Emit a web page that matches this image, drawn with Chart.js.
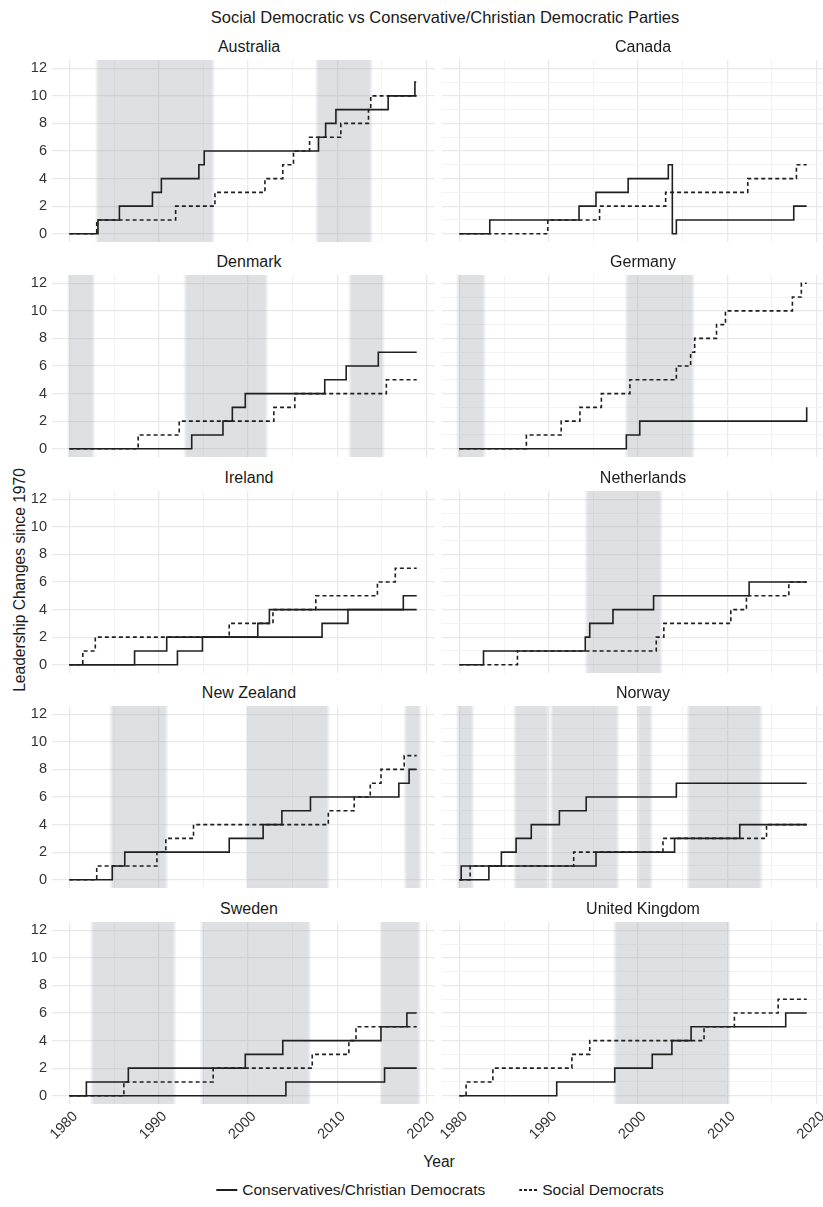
<!DOCTYPE html>
<html>
<head>
<meta charset="utf-8">
<script src="https://cdn.jsdelivr.net/npm/chart.js@4.4.0/dist/chart.umd.min.js"></script>
<style>
    body { margin: 0; background: #fff; overflow: hidden; font-family: "Liberation Sans", Arial, sans-serif; }
    #wrap { position: relative; width: 823px; height: 1207px; overflow: hidden; }
    #wrap canvas { position: absolute; }
    .txt { position: absolute; white-space: nowrap; color: #1a1a1a; }
    .strip { font-size: 16px; line-height: 18px; transform: translateX(-50%); }
    #title { left: 445px; top: 7px; font-size: 16.5px; line-height: 20px; transform: translateX(-50%); }
    #ytitle { left: 19.5px; top: 580px; font-size: 15.6px; line-height: 18px; transform: translate(-50%, -50%) rotate(-90deg); }
    #xtitle { left: 439px; top: 1153px; font-size: 15.6px; line-height: 18px; transform: translateX(-50%); }
    #legend { left: 440px; top: 1181px; font-size: 15.5px; line-height: 18px; transform: translateX(-50%); display: flex; align-items: center; }
    .key { display: inline-block; height: 1.6px; margin-right: 5px; }
</style>
</head>
<body>
<div id="wrap">
    <div class="txt" id="title">Social Democratic vs Conservative/Christian Democratic Parties</div>
    <div class="txt" id="ytitle">Leadership Changes since 1970</div>
    <div class="txt" id="xtitle">Year</div>
    <div class="txt" id="legend">
        <span class="key" style="width:21px;background:#1f1f1f"></span><span>Conservatives/Christian Democrats</span>
        <span class="key" style="width:18px;margin-left:34px;background:repeating-linear-gradient(to right,#1f1f1f 0 3px,transparent 3px 5px)"></span><span>Social Democrats</span>
    </div>
</div>
<script>
//---------------- DATA ----------------
var gCountries = ["Australia", "Canada", "Denmark", "Germany", "Ireland", "Netherlands", "New Zealand", "Norway", "Sweden", "United Kingdom"];
var gYearLabels = [1980, 1990, 2000, 2010, 2020];
var gYearGrid = [1980, 1985, 1990, 1995, 2000, 2005, 2010, 2015, 2020];
var gCountLabels = [0, 2, 4, 6, 8, 10, 12];
var gCountGrid = [0, 1, 2, 3, 4, 5, 6, 7, 8, 9, 10, 11, 12];

// step points: [year, leadership changes]
var gAustraliaCons = [[1980, 0], [1983.2, 1], [1985.6, 2], [1989.3, 3], [1990.3, 4], [1994.5, 5], [1995.1, 6], [2007.9, 7], [2008.7, 8], [2009.85, 9], [2015.7, 10], [2018.7, 11], [2018.85, 11]];
var gAustraliaSoc = [[1980, 0], [1983.06, 1], [1991.9, 2], [1996.3, 3], [2001.9, 4], [2003.9, 5], [2005.1, 6], [2006.9, 7], [2010.4, 8], [2013.5, 9], [2013.75, 10], [2018.9, 10]];
var gAustraliaGov = [[1983.06, 1996.1], [2007.7, 2013.8]];

var gCanadaCons = [[1980, 0], [1983.4, 1], [1993.4, 2], [1995.3, 3], [1998.9, 4], [2003.4, 5], [2003.85, 0], [2004.3, 1], [2017.45, 2], [2018.9, 2]];
var gCanadaSoc = [[1980, 0], [1989.9, 1], [1995.7, 2], [2003.1, 3], [2012.3, 4], [2017.75, 5], [2018.9, 5]];
var gCanadaGov = [];

var gDenmarkCons = [[1980, 0], [1993.7, 1], [1997.2, 2], [1998.25, 3], [1999.7, 4], [2008.6, 5], [2011.0, 6], [2014.6, 7], [2018.9, 7]];
var gDenmarkSoc = [[1980, 0], [1987.7, 1], [1992.3, 2], [2002.9, 3], [2005.25, 4], [2015.5, 5], [2018.9, 5]];
var gDenmarkGov = [[1979.9, 1982.7], [1992.95, 2002.1], [2011.4, 2015.15]];

var gGermanyCons = [[1980, 0], [1998.7, 1], [2000.2, 2], [2018.9, 3]];
var gGermanySoc = [[1980, 0], [1987.5, 1], [1991.4, 2], [1993.5, 3], [1995.9, 4], [1999.1, 5], [2004.3, 6], [2005.9, 7], [2006.35, 8], [2008.8, 9], [2009.8, 10], [2017.3, 11], [2018.3, 12], [2018.9, 12]];
var gGermanyGov = [[1979.8, 1982.8], [1998.7, 2006.2]];

var gIrelandFF = [[1980, 0], [1992.1, 1], [1994.9, 2], [2008.3, 3], [2011.2, 4], [2018.9, 4]];
var gIrelandFG = [[1980, 0], [1987.3, 1], [1990.9, 2], [2001.1, 3], [2002.4, 4], [2017.4, 5], [2018.9, 5]];
var gIrelandSoc = [[1980, 0], [1981.5, 1], [1982.9, 2], [1997.9, 3], [2002.8, 4], [2007.6, 5], [2014.5, 6], [2016.5, 7], [2018.9, 7]];
var gIrelandGov = [];

var gNetherlandsCons = [[1980, 0], [1982.7, 1], [1994.1, 2], [1994.6, 3], [1997.2, 4], [2001.75, 5], [2012.45, 6], [2018.9, 6]];
var gNetherlandsSoc = [[1980, 0], [1986.5, 1], [2002.05, 2], [2002.9, 3], [2010.4, 4], [2012.15, 5], [2016.9, 6], [2018.9, 6]];
var gNetherlandsGov = [[1994.2, 2002.6]];

var gNewZealandCons = [[1980, 0], [1984.8, 1], [1986.2, 2], [1997.9, 3], [2001.7, 4], [2003.8, 5], [2007.0, 6], [2016.9, 7], [2018.05, 8], [2018.9, 8]];
var gNewZealandSoc = [[1980, 0], [1983.06, 1], [1989.8, 2], [1990.8, 3], [1993.9, 4], [2009.0, 5], [2011.9, 6], [2013.7, 7], [2014.9, 8], [2017.5, 9], [2018.9, 9]];
var gNewZealandGov = [[1984.66, 1990.9], [1999.9, 2009.0], [2017.6, 2019.3]];

var gNorwayH = [[1980, 0], [1980.2, 1], [1984.7, 2], [1986.35, 3], [1988.05, 4], [1991.2, 5], [1994.2, 6], [2004.3, 7], [2018.9, 7]];
var gNorwayKrF = [[1980, 0], [1983.3, 1], [1995.3, 2], [2004.1, 3], [2011.4, 4], [2018.9, 4]];
var gNorwaySoc = [[1980, 0], [1981.2, 1], [1992.8, 2], [2002.8, 3], [2014.4, 4], [2018.9, 4]];
var gNorwayGov = [[1979.8, 1981.5], [1986.2, 1989.9], [1990.3, 1997.75], [2000.0, 2001.5], [2005.6, 2013.8]];

var gSwedenM = [[1980, 0], [1981.9, 1], [1986.6, 2], [1999.7, 3], [2003.9, 4], [2014.9, 5], [2017.8, 6], [2018.9, 6]];
var gSwedenKD = [[1980, 0], [2004.25, 1], [2015.3, 2], [2018.9, 2]];
var gSwedenSoc = [[1980, 0], [1986.1, 1], [1996.1, 2], [2007.2, 3], [2011.3, 4], [2012.1, 5], [2018.9, 5]];
var gSwedenGov = [[1982.5, 1991.8], [1994.8, 2006.9], [2014.9, 2019.2]];

var gUKCons = [[1980, 0], [1990.9, 1], [1997.4, 2], [2001.6, 3], [2003.8, 4], [2005.95, 5], [2016.55, 6], [2018.9, 6]];
var gUKSoc = [[1980, 0], [1980.75, 1], [1983.75, 2], [1992.6, 3], [1994.6, 4], [2007.4, 5], [2010.8, 6], [2015.7, 7], [2018.9, 7]];
var gUKGov = [[1997.4, 2010.2]];

var gPanels = [
    { cons: [gAustraliaCons], soc: gAustraliaSoc, gov: gAustraliaGov },
    { cons: [gCanadaCons], soc: gCanadaSoc, gov: gCanadaGov },
    { cons: [gDenmarkCons], soc: gDenmarkSoc, gov: gDenmarkGov },
    { cons: [gGermanyCons], soc: gGermanySoc, gov: gGermanyGov },
    { cons: [gIrelandFF, gIrelandFG], soc: gIrelandSoc, gov: gIrelandGov },
    { cons: [gNetherlandsCons], soc: gNetherlandsSoc, gov: gNetherlandsGov },
    { cons: [gNewZealandCons], soc: gNewZealandSoc, gov: gNewZealandGov },
    { cons: [gNorwayH, gNorwayKrF], soc: gNorwaySoc, gov: gNorwayGov },
    { cons: [gSwedenM, gSwedenKD], soc: gSwedenSoc, gov: gSwedenGov },
    { cons: [gUKCons], soc: gUKSoc, gov: gUKGov }
];

//---------------- LAYOUT ----------------
var gRowTops = [60, 275, 491, 706, 922];
var gPlotW = 383, gPlotH = 182;
var gLineColor = "#1f1f1f";
var gTickFont = { family: "Liberation Sans", size: 14.5 };

function toPoints(pSteps) {
    return pSteps.map(function (s) { return { x: s[0], y: s[1] }; });
}

// shaded periods of social democratic government, soft edges
var gShadePlugin = {
    id: "govShade",
    beforeDatasetsDraw: function (chart, args, opts) {
        var ctx = chart.ctx, a = chart.chartArea, xs = chart.scales.x;
        ctx.save();
        ctx.beginPath();
        ctx.rect(a.left, a.top, a.right - a.left, a.bottom - a.top);
        ctx.clip();
        (opts.spans || []).forEach(function (s) {
            var x0 = xs.getPixelForValue(s[0]) - 2;
            var x1 = xs.getPixelForValue(s[1]) + 2;
            var f = Math.min(0.5, 4 / (x1 - x0));
            var g = ctx.createLinearGradient(x0, 0, x1, 0);
            g.addColorStop(0, "rgba(160,163,170,0)");
            g.addColorStop(f, "rgba(160,163,170,0.34)");
            g.addColorStop(1 - f, "rgba(160,163,170,0.34)");
            g.addColorStop(1, "rgba(160,163,170,0)");
            ctx.fillStyle = g;
            ctx.fillRect(x0, a.top, x1 - x0, a.bottom - a.top);
        });
        ctx.restore();
    }
};

var vWrap = document.getElementById("wrap");

gPanels.forEach(function (p, i) {
    var col = i % 2, row = Math.floor(i / 2);
    var isLeft = col === 0, isBottom = row === 4;
    // right column keeps an empty strip on its left so rotated labels are not cut
    var yAxisW = isLeft ? 52 : 30;
    var xAxisH = isBottom ? 50 : 0;
    var plotLeft = isLeft ? 52 : 442;
    var plotTop = gRowTops[row];

    var vCanvas = document.createElement("canvas");
    vCanvas.width = gPlotW + yAxisW;
    vCanvas.height = gPlotH + xAxisH;
    vCanvas.style.left = (plotLeft - yAxisW) + "px";
    vCanvas.style.top = plotTop + "px";
    vWrap.appendChild(vCanvas);

    var vStrip = document.createElement("div");
    vStrip.className = "txt strip";
    vStrip.textContent = gCountries[i];
    vStrip.style.left = (isLeft ? 249 : 643) + "px";
    vStrip.style.top = (plotTop - 22) + "px";
    vWrap.appendChild(vStrip);

    var vDatasets = [];
    p.cons.forEach(function (c) {
        vDatasets.push({ data: toPoints(c), borderColor: gLineColor, borderWidth: 1.6, stepped: "before", pointRadius: 0, fill: false });
    });
    vDatasets.push({ data: toPoints(p.soc), borderColor: gLineColor, borderWidth: 1.6, borderDash: [4, 3], stepped: "before", pointRadius: 0, fill: false });

    new Chart(vCanvas, {
        type: "line",
        data: { datasets: vDatasets },
        plugins: [gShadePlugin],
        options: {
            responsive: false,
            animation: false,
            devicePixelRatio: 1,
            layout: { padding: 0 },
            plugins: {
                legend: { display: false },
                tooltip: { enabled: false },
                govShade: { spans: p.gov }
            },
            scales: {
                x: {
                    type: "linear",
                    min: 1978.05,
                    max: 2020.95,
                    afterBuildTicks: function (s) { s.ticks = gYearGrid.map(function (v) { return { value: v }; }); },
                    afterFit: function (s) { s.height = xAxisH; s.paddingLeft = 0; s.paddingRight = 0; },
                    border: { display: false },
                    grid: {
                        drawTicks: false,
                        color: function (c) { return gYearLabels.indexOf(c.tick.value) >= 0 ? "#e9e9e9" : "#f2f2f2"; },
                        lineWidth: function (c) { return gYearLabels.indexOf(c.tick.value) >= 0 ? 1.3 : 0.9; }
                    },
                    ticks: {
                        display: isBottom,
                        autoSkip: false,
                        minRotation: 45,
                        maxRotation: 45,
                        padding: 4,
                        labelOffset: 6,
                        color: "#333",
                        font: gTickFont,
                        callback: function (v) { return gYearLabels.indexOf(v) >= 0 ? String(v) : ""; }
                    }
                },
                y: {
                    type: "linear",
                    min: -0.6,
                    max: 12.6,
                    afterBuildTicks: function (s) { s.ticks = gCountGrid.map(function (v) { return { value: v }; }); },
                    afterFit: function (s) { s.width = yAxisW; s.paddingTop = 0; s.paddingBottom = 0; },
                    border: { display: false },
                    grid: {
                        drawTicks: false,
                        color: function (c) { return gCountLabels.indexOf(c.tick.value) >= 0 ? "#e9e9e9" : "#f2f2f2"; },
                        lineWidth: function (c) { return gCountLabels.indexOf(c.tick.value) >= 0 ? 1.3 : 0.9; }
                    },
                    ticks: {
                        display: isLeft,
                        padding: 5,
                        color: "#333",
                        font: gTickFont,
                        callback: function (v) { return gCountLabels.indexOf(v) >= 0 ? String(v) : ""; }
                    }
                }
            }
        }
    });
});
</script>
</body>
</html>
